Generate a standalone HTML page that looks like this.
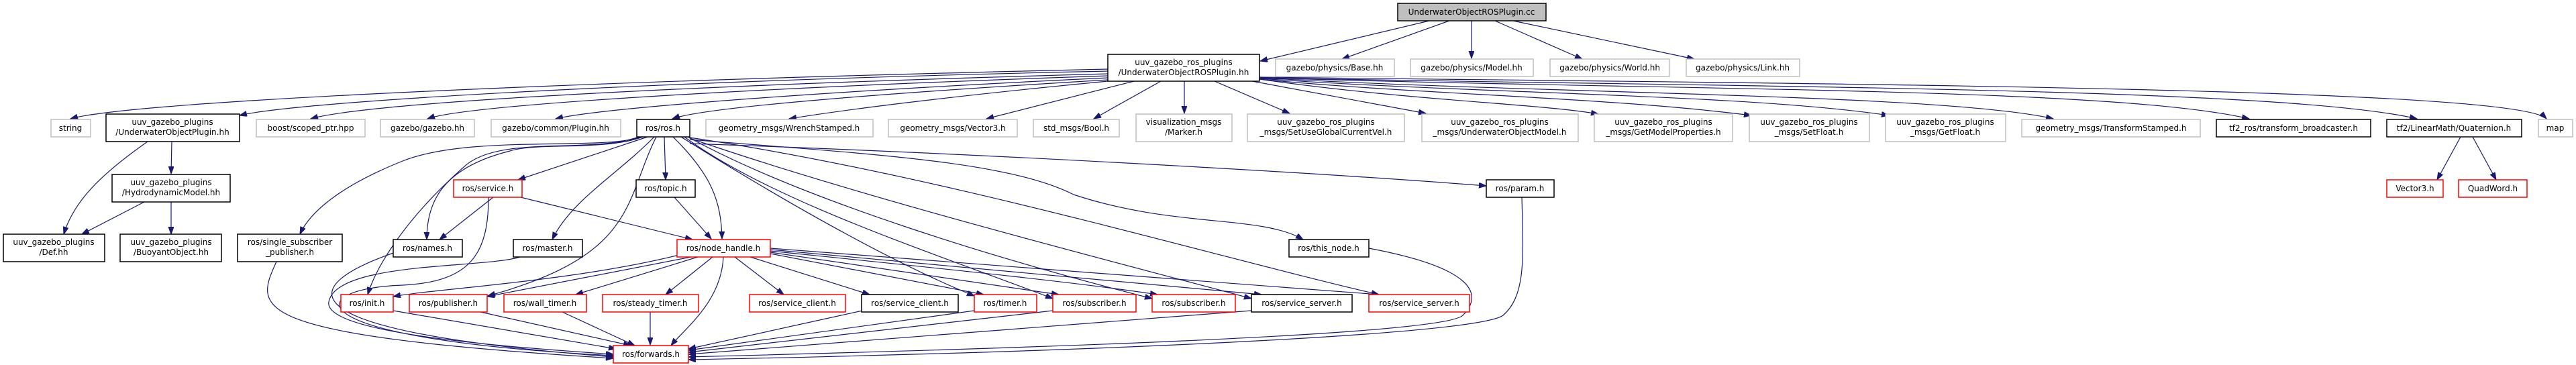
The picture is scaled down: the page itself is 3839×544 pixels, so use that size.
<!DOCTYPE html>
<html><head><meta charset="utf-8"><style>
html,body{margin:0;padding:0;background:#fff;}
svg{display:block;}
text{font-family:"DejaVu Sans","Liberation Sans",sans-serif;font-size:12px;fill:#000;text-anchor:middle;}
.g{fill:#fff;stroke:#bfbfbf;stroke-width:1.5}
.b{fill:#fff;stroke:#000;stroke-width:1.5}
.r{fill:#fff;stroke:#ff0000;stroke-width:1.5}
.rt{fill:#bfbfbf;stroke:#000;stroke-width:1.5}
path{fill:none;stroke:#191970;stroke-width:1.2;marker-end:url(#a)}
</style></head><body>
<svg width="3839" height="544" viewBox="0 0 3839 544" xmlns="http://www.w3.org/2000/svg">
<defs><marker id="a" markerUnits="userSpaceOnUse" markerWidth="12" markerHeight="10" refX="11" refY="4" orient="auto"><polygon points="0,0 11,4 0,8" fill="#191970" stroke="#191970"/></marker></defs>

<path d="M2130,31 L1878,91"/>
<path d="M2160,31 L2000,88"/>
<path d="M2193,31 L2193,87"/>
<path d="M2228,31 L2358,88"/>
<path d="M2255,31 L2525,88"/>

<path d="M1651,103 C900,120 200,150 105,177"/>
<path d="M1651,106 C1000,120 450,150 357,172"/>
<path d="M1651,110 C1100,125 560,150 463,177"/>
<path d="M1651,113 C1150,130 700,155 637,177"/>
<path d="M1651,116 C1250,135 900,160 828,177"/>
<path d="M1651,119 C1300,140 1050,160 1002,177"/>
<path d="M1651,121 C1400,145 1250,165 1176,177"/>
<path d="M1690,121 L1470,177"/>
<path d="M1730,121 L1630,177"/>
<path d="M1765,121 L1765,169"/>
<path d="M1810,121 L1922,169"/>
<path d="M1866,121 L2125,169"/>
<path d="M1877,118 C2100,150 2300,155 2382,170"/>
<path d="M1877,118 C2100,140 2400,145 2610,172"/>
<path d="M1877,117 C2200,140 2600,140 2815,172"/>
<path d="M1877,116 C2300,140 2900,140 3060,177"/>
<path d="M1877,116 C2500,135 3150,130 3352,177"/>
<path d="M1877,116 C2600,130 3400,130 3602,177"/>
<path d="M1877,115 C2700,125 3750,130 3795,177"/>

<path d="M256,211 L255,259"/>
<path d="M220,211 C150,260 110,300 95,349"/>
<path d="M215,301 L122,349"/>
<path d="M255,301 L255,349"/>

<path d="M3667,204 L3632,268"/>
<path d="M3685,204 L3720,268"/>

<path d="M965,204 L772,268"/>
<path d="M990,204 L992,268"/>
<path d="M958,204 C900,225 800,212 760,225 C660,250 636,300 636,357"/>
<path d="M975,204 C920,260 850,300 823,357"/>
<path d="M1003,204 C1060,260 1075,300 1076,356"/>
<path d="M955,204 C900,225 700,200 600,240 C500,280 460,320 447,349"/>
<path d="M952,204 C880,230 740,200 690,250 C600,330 560,400 548,439"/>
<path d="M978,204 C930,300 950,380 727,441"/>
<path d="M1028,214 C1500,230 2000,260 2215,277"/>
<path d="M1028,208 C1300,230 1500,240 1600,290 C1750,340 1880,320 1942,357"/>
<path d="M1015,204 C1200,320 1350,400 1452,441"/>
<path d="M1020,204 C1150,300 1400,380 1569,445"/>
<path d="M1025,204 C1200,300 1500,390 1717,445"/>
<path d="M1028,206 C1300,300 1700,400 1865,445"/>
<path d="M1028,205 C1400,260 1800,380 2055,439"/>

<path d="M735,294 L655,357"/>
<path d="M776,294 L1032,357"/>
<path d="M728,294 C728,380 700,420 600,425 C450,430 430,505 914,530"/>
<path d="M1005,294 L1060,356"/>

<path d="M1012,380 C850,420 650,430 586,442"/>
<path d="M1030,383 L726,442"/>
<path d="M1040,383 L858,439"/>
<path d="M1062,383 L992,439"/>
<path d="M1095,383 L1168,439"/>
<path d="M1118,383 L1296,439"/>
<path d="M1148,378 L1466,439"/>
<path d="M1148,376 L1578,439"/>
<path d="M1148,374 C1400,400 1600,420 1725,439"/>
<path d="M1148,372 L1880,439"/>
<path d="M1148,370 L2055,439"/>
<path d="M1078,383 C1075,450 1020,490 1000,515"/>

<path d="M586,463 L918,520"/>
<path d="M716,465 L940,515"/>
<path d="M838,465 L946,515"/>
<path d="M969,465 L969,514"/>
<path d="M1290,462 L1026,520"/>
<path d="M1452,463 L1026,522"/>
<path d="M1569,463 L1026,525"/>
<path d="M1865,463 L1026,528"/>
<path d="M2040,370 C2200,400 2210,440 2180,470 C2150,500 1500,520 1026,532"/>
<path d="M2268,294 C2270,380 2275,440 2240,470 C2200,500 1600,525 1026,536"/>
<path d="M592,375 C460,420 380,490 914,532"/>
<path d="M412,390 C380,460 360,500 914,534"/>
<path d="M775,383 C720,400 500,390 490,450 C480,500 800,520 914,528"/>

<rect class="rt" x="2083" y="5" width="221" height="26"/><text x="2193" y="22">UnderwaterObjectROSPlugin.cc</text>

<rect class="b" x="1651" y="81" width="226" height="40"/><text x="1764" y="97">uuv_gazebo_ros_plugins</text><text x="1764" y="112">/UnderwaterObjectROSPlugin.hh</text>
<rect class="g" x="1901" y="88" width="177" height="26"/><text x="1989" y="105">gazebo/physics/Base.hh</text>
<rect class="g" x="2102" y="88" width="183" height="26"/><text x="2193" y="105">gazebo/physics/Model.hh</text>
<rect class="g" x="2310" y="88" width="178" height="26"/><text x="2399" y="105">gazebo/physics/World.hh</text>
<rect class="g" x="2513" y="88" width="169" height="26"/><text x="2597" y="105">gazebo/physics/Link.hh</text>

<rect class="g" x="76" y="178" width="59" height="26"/><text x="105" y="195">string</text>
<rect class="b" x="158" y="170" width="199" height="41"/><text x="257" y="186">uuv_gazebo_plugins</text><text x="257" y="201">/UnderwaterObjectPlugin.hh</text>
<rect class="g" x="382" y="178" width="162" height="26"/><text x="463" y="195">boost/scoped_ptr.hpp</text>
<rect class="g" x="567" y="178" width="140" height="26"/><text x="637" y="195">gazebo/gazebo.hh</text>
<rect class="g" x="732" y="178" width="193" height="26"/><text x="828" y="195">gazebo/common/Plugin.hh</text>
<rect class="b" x="949" y="178" width="79" height="26"/><text x="988" y="195">ros/ros.h</text>
<rect class="g" x="1052" y="178" width="249" height="26"/><text x="1176" y="195">geometry_msgs/WrenchStamped.h</text>
<rect class="g" x="1324" y="178" width="192" height="26"/><text x="1420" y="195">geometry_msgs/Vector3.h</text>
<rect class="g" x="1540" y="178" width="128" height="26"/><text x="1604" y="195">std_msgs/Bool.h</text>
<rect class="g" x="1693" y="170" width="143" height="41"/><text x="1764" y="186">visualization_msgs</text><text x="1764" y="201">/Marker.h</text>
<rect class="g" x="1859" y="170" width="234" height="41"/><text x="1976" y="186">uuv_gazebo_ros_plugins</text><text x="1976" y="201">_msgs/SetUseGlobalCurrentVel.h</text>
<rect class="g" x="2119" y="170" width="233" height="41"/><text x="2235" y="186">uuv_gazebo_ros_plugins</text><text x="2235" y="201">_msgs/UnderwaterObjectModel.h</text>
<rect class="g" x="2376" y="170" width="206" height="41"/><text x="2479" y="186">uuv_gazebo_ros_plugins</text><text x="2479" y="201">_msgs/GetModelProperties.h</text>
<rect class="g" x="2607" y="170" width="179" height="41"/><text x="2696" y="186">uuv_gazebo_ros_plugins</text><text x="2696" y="201">_msgs/SetFloat.h</text>
<rect class="g" x="2810" y="170" width="179" height="41"/><text x="2899" y="186">uuv_gazebo_ros_plugins</text><text x="2899" y="201">_msgs/GetFloat.h</text>
<rect class="g" x="3013" y="178" width="266" height="26"/><text x="3146" y="195">geometry_msgs/TransformStamped.h</text>
<rect class="b" x="3303" y="178" width="230" height="26"/><text x="3418" y="195">tf2_ros/transform_broadcaster.h</text>
<rect class="b" x="3557" y="178" width="201" height="26"/><text x="3657" y="195">tf2/LinearMath/Quaternion.h</text>
<rect class="g" x="3783" y="178" width="51" height="26"/><text x="3808" y="195">map</text>

<rect class="b" x="167" y="260" width="176" height="41"/><text x="255" y="276">uuv_gazebo_plugins</text><text x="255" y="291">/HydrodynamicModel.hh</text>
<rect class="r" x="676" y="268" width="102" height="26"/><text x="727" y="285">ros/service.h</text>
<rect class="b" x="948" y="268" width="88" height="26"/><text x="992" y="285">ros/topic.h</text>
<rect class="b" x="2215" y="268" width="101" height="26"/><text x="2265" y="285">ros/param.h</text>
<rect class="r" x="3557" y="268" width="84" height="26"/><text x="3599" y="285">Vector3.h</text>
<rect class="r" x="3664" y="268" width="102" height="26"/><text x="3715" y="285">QuadWord.h</text>

<rect class="b" x="5" y="349" width="151" height="41"/><text x="80" y="365">uuv_gazebo_plugins</text><text x="80" y="380">/Def.hh</text>
<rect class="b" x="179" y="349" width="151" height="41"/><text x="255" y="365">uuv_gazebo_plugins</text><text x="255" y="380">/BuoyantObject.hh</text>
<rect class="b" x="354" y="349" width="156" height="41"/><text x="432" y="365">ros/single_subscriber</text><text x="432" y="380">_publisher.h</text>
<rect class="b" x="586" y="357" width="103" height="26"/><text x="637" y="374">ros/names.h</text>
<rect class="b" x="765" y="357" width="103" height="26"/><text x="816" y="374">ros/master.h</text>
<rect class="r" x="1009" y="357" width="139" height="26"/><text x="1078" y="374">ros/node_handle.h</text>
<rect class="b" x="1921" y="357" width="119" height="26"/><text x="1980" y="374">ros/this_node.h</text>

<rect class="r" x="508" y="439" width="78" height="26"/><text x="547" y="456">ros/init.h</text>
<rect class="r" x="610" y="439" width="116" height="26"/><text x="668" y="456">ros/publisher.h</text>
<rect class="r" x="751" y="439" width="123" height="26"/><text x="812" y="456">ros/wall_timer.h</text>
<rect class="r" x="898" y="439" width="143" height="26"/><text x="969" y="456">ros/steady_timer.h</text>
<rect class="r" x="1117" y="439" width="143" height="26"/><text x="1188" y="456">ros/service_client.h</text>
<rect class="b" x="1284" y="439" width="144" height="26"/><text x="1356" y="456">ros/service_client.h</text>
<rect class="r" x="1452" y="439" width="93" height="26"/><text x="1498" y="456">ros/timer.h</text>
<rect class="r" x="1569" y="439" width="124" height="26"/><text x="1631" y="456">ros/subscriber.h</text>
<rect class="r" x="1717" y="439" width="124" height="26"/><text x="1779" y="456">ros/subscriber.h</text>
<rect class="b" x="1865" y="439" width="150" height="26"/><text x="1940" y="456">ros/service_server.h</text>
<rect class="r" x="2040" y="439" width="150" height="26"/><text x="2115" y="456">ros/service_server.h</text>

<rect class="r" x="914" y="515" width="112" height="26"/><text x="970" y="532">ros/forwards.h</text>
</svg>
</body></html>
